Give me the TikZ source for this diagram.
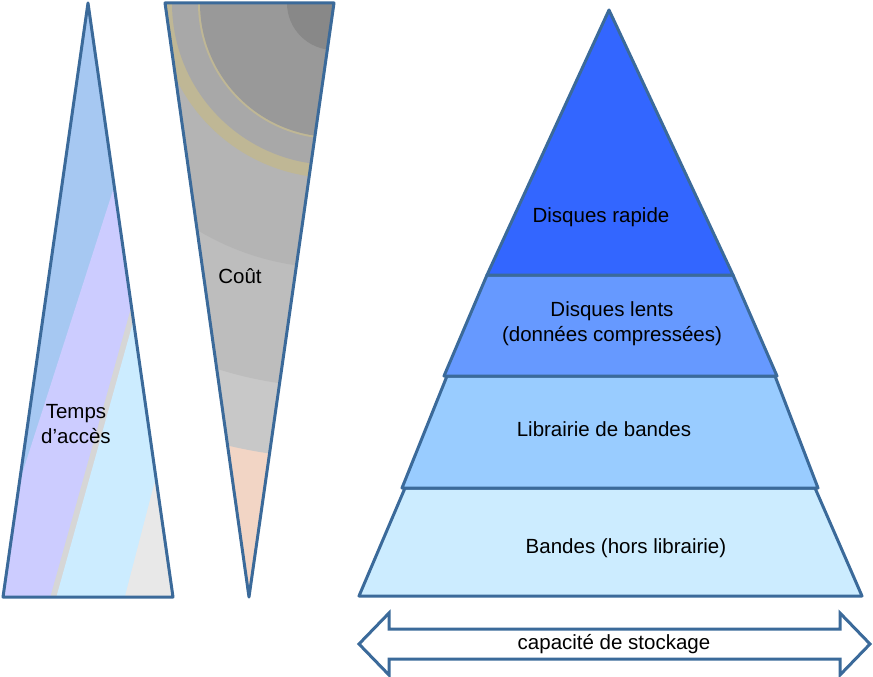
\documentclass[tikz,border=0pt]{standalone}
\usepackage{fontspec}
\setmainfont{Liberation Sans}
\definecolor{rim}{HTML}{3B6A9A}
\definecolor{lvlA}{HTML}{3366FF}
\definecolor{lvlB}{HTML}{6699FF}
\definecolor{lvlC}{HTML}{99CCFF}
\definecolor{lvlD}{HTML}{CCECFF}
\definecolor{tblue}{HTML}{A6C8F2}
\definecolor{tlav}{HTML}{CCCCFF}
\definecolor{tgrey}{HTML}{D6D6D6}
\definecolor{tpale}{HTML}{E8E8E8}
\definecolor{gA}{HTML}{888888}
\definecolor{gB}{HTML}{999999}
\definecolor{gC}{HTML}{A8A8A8}
\definecolor{gD}{HTML}{B4B4B4}
\definecolor{gE}{HTML}{BDBDBD}
\definecolor{gF}{HTML}{C8C8C8}
\definecolor{tan}{HTML}{BFB795}
\definecolor{peach}{HTML}{F2D5C5}
\tikzset{
  label/.style={font=\fontsize{20.5}{25}\selectfont, align=center, inner sep=0pt},
  layer/.style={draw=rim, line width=3pt, line join=round}
}
\begin{document}
\begin{tikzpicture}[x=1pt, y=-1pt]
\useasboundingbox (0,0) rectangle (873,677);
% temps d'acces
\begin{scope}
\clip (88,3)--(173,597)--(3,597)--cycle;
\fill[tblue] (0,0) rectangle (300,677);
\fill[tlav] (174,0)--(-43,677)--(300,677)--(300,0)--cycle;
\fill[tgrey] (217,0)--(28,677)--(300,677)--(300,0)--cycle;
\fill[lvlD] (223,0)--(34,677)--(300,677)--(300,0)--cycle;
\fill[tpale] (280,0)--(104,677)--(300,677)--(300,0)--cycle;
\end{scope}
\draw[layer] (88,3)--(173,597)--(3,597)--cycle;
\node[label] (temps) at (76,424) {Temps\\d’accès};
% cout
\begin{scope}
\clip (165,3)--(334,3)--(249,597)--cycle;
\fill[peach] (160,0) rectangle (340,600);
\foreach \r/\c in {455/gF, 384/gE, 265/gD, 175/tan, 162/gC, 136/tan, 134/gB, 47/gA}
{
    \fill[\c] (334,3) circle[radius=\r pt];
}
\end{scope}
\draw[layer] (165,3)--(334,3)--(249,597)--cycle;
\node[label] (cout) at (240,276) {Coût};
% pyramide
\draw[layer, fill=lvlD] (405,488)--(815,488)--(862,596)--(359,596)--cycle;
\draw[layer, fill=lvlC] (447,376)--(775,376)--(818,488)--(402,488)--cycle;
\draw[layer, fill=lvlB] (487,275)--(733,275)--(777,376)--(444,376)--cycle;
\draw[layer, fill=lvlA] (609,10)--(733,275)--(487,275)--cycle;
\node[label] (rapide) at (601,217) {Disques rapide};
\node[label] (lents) at (612,324) {Disques lents\\(données compressées)};
\node[label] (librairie) at (604,429) {Librairie de bandes};
\node[label] (bandes) at (626,548) {Bandes (hors librairie)};
% capacite
\draw[layer, fill=white, line join=miter] (359,644)--(389,613)--(389,629)--(840,629)--(840,613)--(870,644)
    --(840,675)--(840,659)--(389,659)--(389,675)--cycle;
\node[label] (capacite) at (614,644) {capacité de stockage};
\end{tikzpicture}
\end{document}
